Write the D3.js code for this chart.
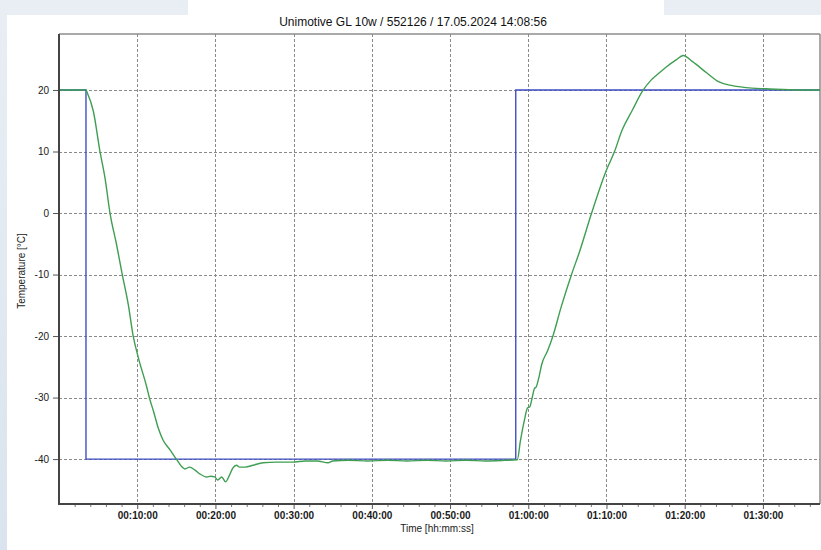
<!DOCTYPE html>
<html>
<head>
<meta charset="utf-8">
<script src="https://cdn.jsdelivr.net/npm/d3@7"></script>
<style>
  html, body { margin: 0; padding: 0; background: #ffffff; }
  svg { display: block; font-family: "Liberation Sans", Arial, sans-serif; }
</style>
</head>
<body>
<svg id="chart" width="821" height="550"></svg>
<script>
// chart title and axis titles
var chartTitle = "Unimotive GL 10w / 552126 / 17.05.2024 14:08:56";
var xTitle = "Time [hh:mm:ss]";
var yTitle = "Temperature [°C]";

// tick values (minutes for x, °C for y)
var xTickMinutes = [10, 20, 30, 40, 50, 60, 70, 80, 90];
var xTickLabels = ["00:10:00", "00:20:00", "00:30:00", "00:40:00", "00:50:00",
  "01:00:00", "01:10:00", "01:20:00", "01:30:00"];
var yTickValues = [20, 10, 0, -10, -20, -30, -40];

// setpoint (blue), time in minutes
var setTimes  = [0, 3.45, 3.45, 58.4, 58.4, 97.3];
var setValues = [20, 20, -40, -40, 20, 20];

// measured temperature (green), time in minutes
var tempTimes = [0, 3.45, 3.6, 4.4, 5.24, 5.88, 6.52, 7.37, 8.09, 8.86, 9.5, 10.14, 11.2, 11.55,
  12.1, 12.7, 13.3, 14.2, 15.0, 16.1, 16.7, 17.4, 18.0, 18.9, 19.4, 19.9, 20.3, 20.8, 21.3, 21.8,
  22.2, 22.7, 23.1, 23.8, 24.8, 26.1, 27.8, 29.9, 31.5, 33.0, 34.4, 35.0, 37.0, 39.5, 42.0,
  44.5, 47.0, 49.5, 52.0, 54.5, 57.0, 58.6, 59.0, 59.5, 59.9, 60.2, 60.5, 60.8, 61.0, 61.4,
  61.7, 62.5, 63.1, 64.2, 65.5, 66.5, 68.1, 70.0, 71.0, 72.0, 73.3, 74.6, 75.7, 76.4, 77.6,
  78.9, 79.8, 81.0, 82.8, 84.4, 86.1, 88.6, 90.4, 94.6, 97.3];
var tempValues = [20, 20, 19.6, 16.5, 10, 5.7, 0, -5.2, -10, -14.9, -20.1, -23.5, -28.2, -30,
  -32.3, -35, -36.9, -38.5, -40, -41.6, -41.3, -41.8, -42.4, -42.9, -42.8, -42.9, -43.4, -42.9, -43.7, -42.6,
  -41.5, -41.0, -41.3, -41.3, -41.0, -40.6, -40.5, -40.5, -40.3, -40.3, -40.6, -40.3, -40.2, -40.3, -40.2,
  -40.3, -40.2, -40.3, -40.2, -40.3, -40.2, -40.1, -37, -33.7, -31.7, -31.5, -30, -28.5, -28.3, -26.5,
  -24.7, -22.3, -20.2, -15.3, -10.1, -6.5, 0, 7, 9.9, 13.5, 16.7, 19.8, 21.6, 22.4, 23.7,
  24.9, 25.6, 24.6, 22.8, 21.3, 20.7, 20.3, 20.2, 20.0, 20.0];

////////////////////////////////////////////////////////////////////////////////////////
// layout
////////////////////////////////////////////////////////////////////////////////////////
var svg = d3.select("#chart");
var plotLeft = 59, plotRight = 820, plotTop = 34, plotBottom = 504;

// window background pieces
var defs = svg.append("defs");
var grad = defs.append("linearGradient").attr("id", "sideGrad")
  .attr("x1", 0).attr("y1", 0).attr("x2", 0).attr("y2", 1);
grad.append("stop").attr("offset", "0%").attr("stop-color", "#e9eef4");
grad.append("stop").attr("offset", "100%").attr("stop-color", "#d9e4ee");

svg.append("rect").attr("x", 0).attr("y", 0).attr("width", 188).attr("height", 15).attr("fill", "#e9eef4");
svg.append("rect").attr("x", 664).attr("y", 0).attr("width", 157).attr("height", 15).attr("fill", "#e9eef4");
svg.append("rect").attr("x", 0).attr("y", 0).attr("width", 7).attr("height", 550).attr("fill", "url(#sideGrad)");

var x = d3.scaleLinear().domain([0, 97.3]).range([plotLeft, plotRight]);
var y = d3.scaleLinear().domain([-47.3, 29.1]).range([plotBottom, plotTop]);

// grid
var grid = svg.append("g").attr("stroke", "#8a8a8a").attr("stroke-width", 1)
  .attr("stroke-dasharray", "3,2").attr("shape-rendering", "crispEdges");
grid.selectAll(".vg").data(xTickMinutes).join("line")
  .attr("x1", function (d) { return Math.round(x(d)) + 0.5; })
  .attr("x2", function (d) { return Math.round(x(d)) + 0.5; })
  .attr("y1", plotTop).attr("y2", plotBottom);
grid.selectAll(".hg").data(yTickValues).join("line")
  .attr("y1", function (d) { return Math.round(y(d)) + 0.5; })
  .attr("y2", function (d) { return Math.round(y(d)) + 0.5; })
  .attr("x1", plotLeft).attr("x2", plotRight);

// frame top / right
svg.append("line").attr("x1", plotLeft).attr("x2", plotRight).attr("y1", plotTop).attr("y2", plotTop)
  .attr("stroke", "#8c8c8c").attr("stroke-width", 1.5);
svg.append("line").attr("x1", plotRight).attr("x2", plotRight).attr("y1", plotTop).attr("y2", plotBottom)
  .attr("stroke", "#8c8c8c").attr("stroke-width", 1.5);

// series
var stepLine = d3.line()
  .x(function (d) { return x(d[0]); })
  .y(function (d) { return y(d[1]); });
var smoothLine = d3.line()
  .curve(d3.curveMonotoneX)
  .x(function (d) { return x(d[0]); })
  .y(function (d) { return y(d[1]); });

var setData = d3.zip(setTimes, setValues);
var tempData = d3.zip(tempTimes, tempValues);

svg.append("path").datum(setData)
  .attr("d", stepLine).attr("fill", "none")
  .attr("stroke", "#3f4fc4").attr("stroke-width", 1.4);

svg.append("path").datum(tempData)
  .attr("d", smoothLine).attr("fill", "none")
  .attr("stroke", "#3f9e52").attr("stroke-width", 1.4)
  .attr("stroke-linejoin", "round");

////////////////////////////////////////////////////////////////////////////////////////
// axes
////////////////////////////////////////////////////////////////////////////////////////
var minorTicks = d3.range(2, 97.3, 2).filter(function (d) { return d % 10 !== 0; });

var xAxis = d3.axisBottom(x)
  .tickValues(xTickMinutes)
  .tickFormat(function (d, i) { return xTickLabels[i]; })
  .tickSize(5).tickPadding(3).tickSizeOuter(0);
var gx = svg.append("g").attr("transform", "translate(0," + plotBottom + ")").call(xAxis);
gx.select(".domain").remove();
gx.selectAll(".tick line").attr("stroke", "#555");
gx.selectAll(".tick text").attr("fill", "#1a1a1a").style("font-size", "10px")
  .style("font-weight", "bold").style("font-family", "'Liberation Sans', Arial, sans-serif");

var xMinor = d3.axisBottom(x).tickValues(minorTicks).tickSize(3).tickFormat("").tickSizeOuter(0);
var gxm = svg.append("g").attr("transform", "translate(0," + plotBottom + ")").call(xMinor);
gxm.select(".domain").remove();
gxm.selectAll(".tick line").attr("stroke", "#777");

var yAxis = d3.axisLeft(y)
  .tickValues(yTickValues)
  .tickFormat(function (d) { return String(d); })
  .tickSize(6).tickPadding(4).tickSizeOuter(0);
var gy = svg.append("g").attr("transform", "translate(" + plotLeft + ",0)").call(yAxis);
gy.select(".domain").remove();
gy.selectAll(".tick line").attr("stroke", "#555");
gy.selectAll(".tick text").attr("fill", "#1a1a1a").style("font-size", "10px")
  .style("font-family", "'Liberation Sans', Arial, sans-serif");

// left and bottom axis lines
svg.append("line").attr("x1", plotLeft).attr("x2", plotLeft).attr("y1", plotTop).attr("y2", plotBottom + 1)
  .attr("stroke", "#444").attr("stroke-width", 2);
svg.append("line").attr("x1", plotLeft - 1).attr("x2", plotRight).attr("y1", plotBottom).attr("y2", plotBottom)
  .attr("stroke", "#444").attr("stroke-width", 2);

// titles
svg.append("text").attr("x", 413).attr("y", 26).attr("text-anchor", "middle")
  .style("font-size", "12px").attr("fill", "#111").text(chartTitle);

svg.append("text").attr("x", 437).attr("y", 532).attr("text-anchor", "middle")
  .style("font-size", "10px").attr("fill", "#222").text(xTitle);

svg.append("text").attr("transform", "translate(25,271) rotate(-90)").attr("text-anchor", "middle")
  .style("font-size", "10px").attr("fill", "#222").text(yTitle);
</script>
</body>
</html>
